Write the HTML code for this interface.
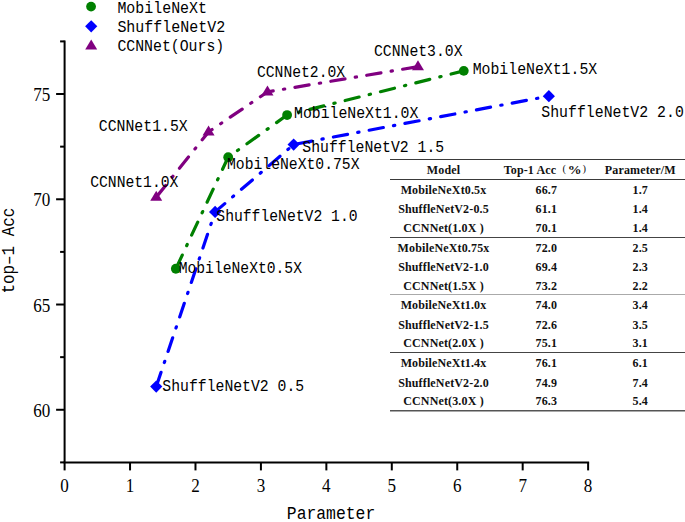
<!DOCTYPE html><html><head><meta charset="utf-8"><style>html,body{margin:0;padding:0;background:#fff;width:685px;height:522px;overflow:hidden}svg{display:block}</style></head><body>
<svg width="685" height="522" viewBox="0 0 685 522">
<rect width="685" height="522" fill="#fff"/>
<line x1="390" y1="159.5" x2="685" y2="159.5" stroke="#3a3a3a" stroke-width="1.2"/>
<line x1="390" y1="179.5" x2="685" y2="179.5" stroke="#3a3a3a" stroke-width="1.2"/>
<line x1="390" y1="237.5" x2="685" y2="237.5" stroke="#444" stroke-width="1.2"/>
<line x1="390" y1="294.5" x2="685" y2="294.5" stroke="#aaa" stroke-width="1"/>
<line x1="390" y1="352.5" x2="685" y2="352.5" stroke="#444" stroke-width="1.2"/>
<line x1="390" y1="410.7" x2="685" y2="410.7" stroke="#555" stroke-width="1.5"/>
<g stroke="#000" stroke-width="2" fill="none">
<line x1="64.6" y1="40.40" x2="64.6" y2="462.4"/>
<line x1="63.599999999999994" y1="462.4" x2="589.12" y2="462.4"/>
<line x1="56.099999999999994" y1="409.77" x2="64.6" y2="409.77"/>
<line x1="56.099999999999994" y1="304.52" x2="64.6" y2="304.52"/>
<line x1="56.099999999999994" y1="199.27" x2="64.6" y2="199.27"/>
<line x1="56.099999999999994" y1="94.02" x2="64.6" y2="94.02"/>
<line x1="60.099999999999994" y1="462.40" x2="64.6" y2="462.40"/>
<line x1="60.099999999999994" y1="357.15" x2="64.6" y2="357.15"/>
<line x1="60.099999999999994" y1="251.90" x2="64.6" y2="251.90"/>
<line x1="60.099999999999994" y1="146.65" x2="64.6" y2="146.65"/>
<line x1="60.099999999999994" y1="41.40" x2="64.6" y2="41.40"/>
<line x1="64.60" y1="462.4" x2="64.60" y2="470.4"/>
<line x1="130.04" y1="462.4" x2="130.04" y2="470.4"/>
<line x1="195.48" y1="462.4" x2="195.48" y2="470.4"/>
<line x1="260.92" y1="462.4" x2="260.92" y2="470.4"/>
<line x1="326.36" y1="462.4" x2="326.36" y2="470.4"/>
<line x1="391.80" y1="462.4" x2="391.80" y2="470.4"/>
<line x1="457.24" y1="462.4" x2="457.24" y2="470.4"/>
<line x1="522.68" y1="462.4" x2="522.68" y2="470.4"/>
<line x1="588.12" y1="462.4" x2="588.12" y2="470.4"/>
</g>
<g font-family="Liberation Serif, serif" font-size="18" fill="#000" text-anchor="middle">
<text transform="translate(64.60,492.2) scale(0.95,1)">0</text>
<text transform="translate(130.04,492.2) scale(0.95,1)">1</text>
<text transform="translate(195.48,492.2) scale(0.95,1)">2</text>
<text transform="translate(260.92,492.2) scale(0.95,1)">3</text>
<text transform="translate(326.36,492.2) scale(0.95,1)">4</text>
<text transform="translate(391.80,492.2) scale(0.95,1)">5</text>
<text transform="translate(457.24,492.2) scale(0.95,1)">6</text>
<text transform="translate(522.68,492.2) scale(0.95,1)">7</text>
<text transform="translate(588.12,492.2) scale(0.95,1)">8</text>
</g>
<g font-family="Liberation Serif, serif" font-size="18" fill="#000" text-anchor="end">
<text transform="translate(50.3,416.88) scale(0.95,1)">60</text>
<text transform="translate(50.3,311.62) scale(0.95,1)">65</text>
<text transform="translate(50.3,206.37) scale(0.95,1)">70</text>
<text transform="translate(50.3,101.12) scale(0.95,1)">75</text>
</g>
<text font-family="Liberation Mono, monospace" font-size="18.6" x="286.8" y="519.4" textLength="88.5" lengthAdjust="spacingAndGlyphs">Parameter</text>
<text font-family="Liberation Mono, monospace" font-size="18" transform="translate(14.1,293.6) rotate(-90)" x="0" y="0" textLength="86" lengthAdjust="spacingAndGlyphs">top–1 Acc</text>
<path d="M175.85 268.74 L228.20 157.17 L287.10 115.07 L463.78 70.87" fill="none" stroke="#008000" stroke-width="3.2" stroke-dasharray="14.4 10.35 1.3 10.35" stroke-dashoffset="-0.7" stroke-linecap="round"/>
<path d="M156.22 386.62 L215.11 211.90 L293.64 144.55 L548.86 96.13" fill="none" stroke="#0000ff" stroke-width="3.2" stroke-dasharray="14.4 10.35 1.3 10.35" stroke-dashoffset="-0.7" stroke-linecap="round"/>
<path d="M156.22 197.17 L208.57 131.91 L267.46 91.92 L417.98 66.66" fill="none" stroke="#800080" stroke-width="3.2" stroke-dasharray="14.4 10.35 1.3 10.35" stroke-dashoffset="-0.7" stroke-linecap="round"/>
<circle cx="175.85" cy="268.74" r="4.9" fill="#008000"/>
<circle cx="228.20" cy="157.17" r="4.9" fill="#008000"/>
<circle cx="287.10" cy="115.07" r="4.9" fill="#008000"/>
<circle cx="463.78" cy="70.87" r="4.9" fill="#008000"/>
<path d="M156.22 380.52L162.32 386.62L156.22 392.72L150.12 386.62Z" fill="#0000ff"/>
<path d="M215.11 205.80L221.21 211.90L215.11 218.00L209.01 211.90Z" fill="#0000ff"/>
<path d="M293.64 138.45L299.74 144.55L293.64 150.65L287.54 144.55Z" fill="#0000ff"/>
<path d="M548.86 90.03L554.96 96.13L548.86 102.23L542.76 96.13Z" fill="#0000ff"/>
<path d="M156.22 190.87L162.22 200.87L150.22 200.87Z" fill="#800080"/>
<path d="M208.57 125.61L214.57 135.61L202.57 135.61Z" fill="#800080"/>
<path d="M267.46 85.62L273.46 95.62L261.46 95.62Z" fill="#800080"/>
<path d="M417.98 60.36L423.98 70.36L411.98 70.36Z" fill="#800080"/>
<circle cx="91.05" cy="6.60" r="4.9" fill="#008000"/>
<path d="M91.20 20.20L97.30 26.30L91.20 32.40L85.10 26.30Z" fill="#0000ff"/>
<path d="M91.20 39.45L97.20 49.45L85.20 49.45Z" fill="#800080"/>
<g font-family="Liberation Mono, monospace" font-size="17.2" fill="#000">
<text x="117.4" y="12.6" textLength="89.6" lengthAdjust="spacingAndGlyphs">MobileNeXt</text>
<text x="117.4" y="32.0" textLength="107.8" lengthAdjust="spacingAndGlyphs">ShuffleNetV2</text>
<text x="117.4" y="50.8" textLength="106.8" lengthAdjust="spacingAndGlyphs">CCNNet(Ours)</text>
</g>
<g font-family="Liberation Mono, monospace" font-size="17.2" fill="#000">
<text x="374.0" y="56.3" textLength="88.5" lengthAdjust="spacingAndGlyphs" xml:space="preserve">CCNNet3.0X</text>
<text x="257.0" y="76.9" textLength="88.1" lengthAdjust="spacingAndGlyphs" xml:space="preserve">CCNNet2.0X</text>
<text x="98.8" y="131.1" textLength="88.9" lengthAdjust="spacingAndGlyphs" xml:space="preserve">CCNNet1.5X</text>
<text x="90.2" y="186.9" textLength="88.2" lengthAdjust="spacingAndGlyphs" xml:space="preserve">CCNNet1.0X</text>
<text x="472.7" y="74.1" textLength="124.5" lengthAdjust="spacingAndGlyphs" xml:space="preserve">MobileNeXt1.5X</text>
<text x="294.0" y="118.4" textLength="124.4" lengthAdjust="spacingAndGlyphs" xml:space="preserve">MobileNeXt1.0X</text>
<text x="227.0" y="168.5" textLength="132.5" lengthAdjust="spacingAndGlyphs" xml:space="preserve">MobileNeXt0.75X</text>
<text x="178.7" y="272.7" textLength="123.3" lengthAdjust="spacingAndGlyphs" xml:space="preserve">MobileNeXt0.5X</text>
<text x="541.3" y="116.9" textLength="142.5" lengthAdjust="spacingAndGlyphs" xml:space="preserve">ShuffleNetV2 2.0</text>
<text x="302.3" y="152.3" textLength="141.9" lengthAdjust="spacingAndGlyphs" xml:space="preserve">ShuffleNetV2 1.5</text>
<text x="216.3" y="220.5" textLength="141.3" lengthAdjust="spacingAndGlyphs" xml:space="preserve">ShuffleNetV2 1.0</text>
<text x="162.3" y="390.5" textLength="141.9" lengthAdjust="spacingAndGlyphs" xml:space="preserve">ShuffleNetV2 0.5</text>
</g>
<g font-family="Liberation Serif, serif" font-weight="bold" font-size="12" letter-spacing="0.15" fill="#111" text-anchor="middle">
<text x="443.5" y="174.2">Model</text>
<text x="503.7" y="174.2" text-anchor="start">Top-1 Acc</text>
<text x="562.4" y="172.4" text-anchor="start" font-weight="normal" font-size="10.5">(</text>
<text transform="translate(567.8,174.3) scale(1.15,1.02)" text-anchor="start">%</text>
<text x="582.6" y="172.4" text-anchor="start" font-weight="normal" font-size="10.5">)</text>
<text x="640.3" y="174.2">Parameter/M</text>
<text x="443.5" y="194.4" xml:space="preserve">MobileNeXt0.5x</text><text x="546.3" y="194.4">66.7</text><text x="640.3" y="194.4">1.7</text>
<text x="443.5" y="213.3" xml:space="preserve">ShuffleNetV2-0.5</text><text x="546.3" y="213.3">61.1</text><text x="640.3" y="213.3">1.4</text>
<text x="443.5" y="231.9" xml:space="preserve">CCNNet(1.0X )</text><text x="546.3" y="231.9">70.1</text><text x="640.3" y="231.9">1.4</text>
<text x="443.5" y="251.6" xml:space="preserve">MobileNeXt0.75x</text><text x="546.3" y="251.6">72.0</text><text x="640.3" y="251.6">2.5</text>
<text x="443.5" y="270.8" xml:space="preserve">ShuffleNetV2-1.0</text><text x="546.3" y="270.8">69.4</text><text x="640.3" y="270.8">2.3</text>
<text x="443.5" y="289.5" xml:space="preserve">CCNNet(1.5X )</text><text x="546.3" y="289.5">73.2</text><text x="640.3" y="289.5">2.2</text>
<text x="443.5" y="309.0" xml:space="preserve">MobileNeXt1.0x</text><text x="546.3" y="309.0">74.0</text><text x="640.3" y="309.0">3.4</text>
<text x="443.5" y="328.5" xml:space="preserve">ShuffleNetV2-1.5</text><text x="546.3" y="328.5">72.6</text><text x="640.3" y="328.5">3.5</text>
<text x="443.5" y="347.4" xml:space="preserve">CCNNet(2.0X )</text><text x="546.3" y="347.4">75.1</text><text x="640.3" y="347.4">3.1</text>
<text x="443.5" y="367.0" xml:space="preserve">MobileNeXt1.4x</text><text x="546.3" y="367.0">76.1</text><text x="640.3" y="367.0">6.1</text>
<text x="443.5" y="386.6" xml:space="preserve">ShuffleNetV2-2.0</text><text x="546.3" y="386.6">74.9</text><text x="640.3" y="386.6">7.4</text>
<text x="443.5" y="405.2" xml:space="preserve">CCNNet(3.0X )</text><text x="546.3" y="405.2">76.3</text><text x="640.3" y="405.2">5.4</text>
</g>
</svg></body></html>
